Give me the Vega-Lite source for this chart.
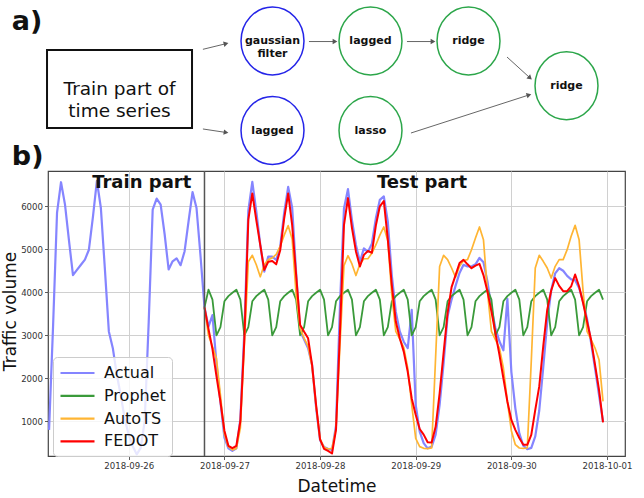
{
  "$schema": "https://vega.github.io/schema/vega-lite/v6.json",
  "width": 577,
  "height": 285,
  "autosize": {"type": "none"},
  "padding": {"left": 48, "top": 171, "right": 19, "bottom": 42},
  "background": "white",
  "config": {
    "font": "DejaVu Sans",
    "view": {"stroke": "#444", "strokeWidth": 1.2},
    "axis": {"labelFont": "DejaVu Sans", "labelFontSize": 8.6, "labelColor": "#333", "tickColor": "#333", "tickSize": 3.5, "tickWidth": 0.8, "gridColor": "#d0d0d0", "gridWidth": 1, "domain": false, "titleFont": "DejaVu Sans", "titleFontSize": 17, "titleFontWeight": "normal", "titleColor": "#111"},
    "text": {"font": "DejaVu Sans"}
  },
  "datasets": {
    "ts": [
      {"t": "2018-09-25T04:00", "Actual": 800},
      {"t": "2018-09-25T05:00", "Actual": 3200},
      {"t": "2018-09-25T06:00", "Actual": 5850},
      {"t": "2018-09-25T07:00", "Actual": 6560},
      {"t": "2018-09-25T08:00", "Actual": 6040},
      {"t": "2018-09-25T09:00", "Actual": 5200},
      {"t": "2018-09-25T10:00", "Actual": 4400},
      {"t": "2018-09-25T11:00", "Actual": 4520},
      {"t": "2018-09-25T12:00", "Actual": 4640},
      {"t": "2018-09-25T13:00", "Actual": 4760},
      {"t": "2018-09-25T14:00", "Actual": 4990},
      {"t": "2018-09-25T15:00", "Actual": 5750},
      {"t": "2018-09-25T16:00", "Actual": 6590},
      {"t": "2018-09-25T17:00", "Actual": 5960},
      {"t": "2018-09-25T18:00", "Actual": 4550},
      {"t": "2018-09-25T19:00", "Actual": 3090},
      {"t": "2018-09-25T20:00", "Actual": 2700},
      {"t": "2018-09-25T21:00", "Actual": 2080},
      {"t": "2018-09-25T22:00", "Actual": 1600},
      {"t": "2018-09-25T23:00", "Actual": 1050},
      {"t": "2018-09-26T00:00", "Actual": 680},
      {"t": "2018-09-26T01:00", "Actual": 420},
      {"t": "2018-09-26T02:00", "Actual": 230},
      {"t": "2018-09-26T03:00", "Actual": 380},
      {"t": "2018-09-26T04:00", "Actual": 1000},
      {"t": "2018-09-26T05:00", "Actual": 3300},
      {"t": "2018-09-26T06:00", "Actual": 5920},
      {"t": "2018-09-26T07:00", "Actual": 6180},
      {"t": "2018-09-26T08:00", "Actual": 6040},
      {"t": "2018-09-26T09:00", "Actual": 5350},
      {"t": "2018-09-26T10:00", "Actual": 4530},
      {"t": "2018-09-26T11:00", "Actual": 4720},
      {"t": "2018-09-26T12:00", "Actual": 4790},
      {"t": "2018-09-26T13:00", "Actual": 4630},
      {"t": "2018-09-26T14:00", "Actual": 4950},
      {"t": "2018-09-26T15:00", "Actual": 5650},
      {"t": "2018-09-26T16:00", "Actual": 6330},
      {"t": "2018-09-26T17:00", "Actual": 5960},
      {"t": "2018-09-26T18:00", "Actual": 4850},
      {"t": "2018-09-26T19:00", "Actual": 3650, "Prophet": 3650, "AutoTS": 3650, "FEDOT": 3650},
      {"t": "2018-09-26T20:00", "Actual": 3200, "Prophet": 4060, "AutoTS": 3000, "FEDOT": 3150},
      {"t": "2018-09-26T21:00", "Actual": 3470, "Prophet": 3830, "AutoTS": 2740, "FEDOT": 2680},
      {"t": "2018-09-26T22:00", "Actual": 2350, "Prophet": 3000, "AutoTS": 2460, "FEDOT": 2050},
      {"t": "2018-09-26T23:00", "Actual": 1450, "Prophet": 3190, "AutoTS": 1610, "FEDOT": 1460},
      {"t": "2018-09-27T00:00", "Actual": 620, "Prophet": 3790, "AutoTS": 690, "FEDOT": 780},
      {"t": "2018-09-27T01:00", "Actual": 370, "Prophet": 3910, "AutoTS": 410, "FEDOT": 430},
      {"t": "2018-09-27T02:00", "Actual": 310, "Prophet": 3990, "AutoTS": 335, "FEDOT": 375},
      {"t": "2018-09-27T03:00", "Actual": 370, "Prophet": 4060, "AutoTS": 370, "FEDOT": 430},
      {"t": "2018-09-27T04:00", "Actual": 1050, "Prophet": 3830, "AutoTS": 840, "FEDOT": 1000},
      {"t": "2018-09-27T05:00", "Actual": 3100, "Prophet": 3000, "AutoTS": 2780, "FEDOT": 2900},
      {"t": "2018-09-27T06:00", "Actual": 5900, "Prophet": 3190, "AutoTS": 4710, "FEDOT": 5690},
      {"t": "2018-09-27T07:00", "Actual": 6570, "Prophet": 3790, "AutoTS": 4860, "FEDOT": 6300},
      {"t": "2018-09-27T08:00", "Actual": 5880, "Prophet": 3910, "AutoTS": 4640, "FEDOT": 5680},
      {"t": "2018-09-27T09:00", "Actual": 5100, "Prophet": 3990, "AutoTS": 4360, "FEDOT": 5100},
      {"t": "2018-09-27T10:00", "Actual": 4480, "Prophet": 4060, "AutoTS": 4640, "FEDOT": 4520},
      {"t": "2018-09-27T11:00", "Actual": 4830, "Prophet": 3830, "AutoTS": 4760, "FEDOT": 4710},
      {"t": "2018-09-27T12:00", "Actual": 4830, "Prophet": 3000, "AutoTS": 4800, "FEDOT": 4730},
      {"t": "2018-09-27T13:00", "Actual": 4750, "Prophet": 3190, "AutoTS": 4880, "FEDOT": 4650},
      {"t": "2018-09-27T14:00", "Actual": 5060, "Prophet": 3790, "AutoTS": 5070, "FEDOT": 4980},
      {"t": "2018-09-27T15:00", "Actual": 5850, "Prophet": 3910, "AutoTS": 5330, "FEDOT": 5720},
      {"t": "2018-09-27T16:00", "Actual": 6450, "Prophet": 3990, "AutoTS": 5550, "FEDOT": 6300},
      {"t": "2018-09-27T17:00", "Actual": 5970, "Prophet": 4060, "AutoTS": 5240, "FEDOT": 5560},
      {"t": "2018-09-27T18:00", "Actual": 4450, "Prophet": 3830, "AutoTS": 3940, "FEDOT": 4400},
      {"t": "2018-09-27T19:00", "Actual": 3100, "Prophet": 3000, "AutoTS": 3160, "FEDOT": 3240},
      {"t": "2018-09-27T20:00", "Actual": 2900, "Prophet": 3190, "AutoTS": 2930, "FEDOT": 3080},
      {"t": "2018-09-27T21:00", "Actual": 2700, "Prophet": 3790, "AutoTS": 2740, "FEDOT": 2930},
      {"t": "2018-09-27T22:00", "Actual": 2310, "Prophet": 3910, "AutoTS": 2270, "FEDOT": 2310},
      {"t": "2018-09-27T23:00", "Actual": 1320, "Prophet": 3990, "AutoTS": 1340, "FEDOT": 1380},
      {"t": "2018-09-28T00:00", "Actual": 560, "Prophet": 4060, "AutoTS": 590, "FEDOT": 580},
      {"t": "2018-09-28T01:00", "Actual": 400, "Prophet": 3830, "AutoTS": 395, "FEDOT": 360},
      {"t": "2018-09-28T02:00", "Actual": 360, "Prophet": 3000, "AutoTS": 355, "FEDOT": 310},
      {"t": "2018-09-28T03:00", "Actual": 330, "Prophet": 3190, "AutoTS": 370, "FEDOT": 250},
      {"t": "2018-09-28T04:00", "Actual": 900, "Prophet": 3790, "AutoTS": 836, "FEDOT": 800},
      {"t": "2018-09-28T05:00", "Actual": 3700, "Prophet": 3910, "AutoTS": 2780, "FEDOT": 3080},
      {"t": "2018-09-28T06:00", "Actual": 5950, "Prophet": 3990, "AutoTS": 4620, "FEDOT": 5560},
      {"t": "2018-09-28T07:00", "Actual": 6400, "Prophet": 4060, "AutoTS": 4850, "FEDOT": 6190},
      {"t": "2018-09-28T08:00", "Actual": 5680, "Prophet": 3830, "AutoTS": 4660, "FEDOT": 5500},
      {"t": "2018-09-28T09:00", "Actual": 5100, "Prophet": 3000, "AutoTS": 4390, "FEDOT": 4950},
      {"t": "2018-09-28T10:00", "Actual": 4710, "Prophet": 3190, "AutoTS": 4660, "FEDOT": 4600},
      {"t": "2018-09-28T11:00", "Actual": 5020, "Prophet": 3790, "AutoTS": 4780, "FEDOT": 4870},
      {"t": "2018-09-28T12:00", "Actual": 4940, "Prophet": 3910, "AutoTS": 4780, "FEDOT": 4960},
      {"t": "2018-09-28T13:00", "Actual": 5130, "Prophet": 3990, "AutoTS": 4910, "FEDOT": 4920},
      {"t": "2018-09-28T14:00", "Actual": 5720, "Prophet": 4060, "AutoTS": 5100, "FEDOT": 5550},
      {"t": "2018-09-28T15:00", "Actual": 6150, "Prophet": 3830, "AutoTS": 5330, "FEDOT": 6000},
      {"t": "2018-09-28T16:00", "Actual": 6230, "Prophet": 3000, "AutoTS": 5520, "FEDOT": 6120},
      {"t": "2018-09-28T17:00", "Actual": 5640, "Prophet": 3190, "AutoTS": 5200, "FEDOT": 5230},
      {"t": "2018-09-28T18:00", "Actual": 4400, "Prophet": 3790, "AutoTS": 3940, "FEDOT": 4170},
      {"t": "2018-09-28T19:00", "Actual": 3550, "Prophet": 3910, "AutoTS": 3090, "FEDOT": 3320},
      {"t": "2018-09-28T20:00", "Actual": 3090, "Prophet": 3990, "AutoTS": 2910, "FEDOT": 2930},
      {"t": "2018-09-28T21:00", "Actual": 2850, "Prophet": 4060, "AutoTS": 2720, "FEDOT": 2620},
      {"t": "2018-09-28T22:00", "Actual": 2700, "Prophet": 3830, "AutoTS": 2235, "FEDOT": 2150},
      {"t": "2018-09-28T23:00", "Actual": 3590, "Prophet": 3000, "AutoTS": 1380, "FEDOT": 1530},
      {"t": "2018-09-29T00:00", "Actual": 1380, "Prophet": 3190, "AutoTS": 604, "FEDOT": 1150},
      {"t": "2018-09-29T01:00", "Actual": 760, "Prophet": 3790, "AutoTS": 410, "FEDOT": 820},
      {"t": "2018-09-29T02:00", "Actual": 490, "Prophet": 3910, "AutoTS": 371, "FEDOT": 690},
      {"t": "2018-09-29T03:00", "Actual": 370, "Prophet": 3990, "AutoTS": 365, "FEDOT": 510},
      {"t": "2018-09-29T04:00", "Actual": 410, "Prophet": 4060, "AutoTS": 380, "FEDOT": 505},
      {"t": "2018-09-29T05:00", "Actual": 690, "Prophet": 3830, "AutoTS": 2500, "FEDOT": 870},
      {"t": "2018-09-29T06:00", "Actual": 1380, "Prophet": 3000, "AutoTS": 4600, "FEDOT": 1650},
      {"t": "2018-09-29T07:00", "Actual": 2350, "Prophet": 3190, "AutoTS": 4860, "FEDOT": 2590},
      {"t": "2018-09-29T08:00", "Actual": 3440, "Prophet": 3790, "AutoTS": 4760, "FEDOT": 3520},
      {"t": "2018-09-29T09:00", "Actual": 3830, "Prophet": 3910, "AutoTS": 4565, "FEDOT": 4120},
      {"t": "2018-09-29T10:00", "Actual": 4150, "Prophet": 3990, "AutoTS": 4350, "FEDOT": 4400},
      {"t": "2018-09-29T11:00", "Actual": 4450, "Prophet": 4060, "AutoTS": 4604, "FEDOT": 4680},
      {"t": "2018-09-29T12:00", "Actual": 4640, "Prophet": 3830, "AutoTS": 4740, "FEDOT": 4755},
      {"t": "2018-09-29T13:00", "Actual": 4600, "Prophet": 3000, "AutoTS": 4760, "FEDOT": 4650},
      {"t": "2018-09-29T14:00", "Actual": 4600, "Prophet": 3190, "AutoTS": 4990, "FEDOT": 4560},
      {"t": "2018-09-29T15:00", "Actual": 4650, "Prophet": 3790, "AutoTS": 5263, "FEDOT": 4620},
      {"t": "2018-09-29T16:00", "Actual": 4800, "Prophet": 3910, "AutoTS": 5520, "FEDOT": 4660},
      {"t": "2018-09-29T17:00", "Actual": 4700, "Prophet": 3990, "AutoTS": 5224, "FEDOT": 4400},
      {"t": "2018-09-29T18:00", "Actual": 4250, "Prophet": 4060, "AutoTS": 4022, "FEDOT": 4020},
      {"t": "2018-09-29T19:00", "Actual": 3630, "Prophet": 3830, "AutoTS": 3092, "FEDOT": 3555},
      {"t": "2018-09-29T20:00", "Actual": 3170, "Prophet": 3000, "AutoTS": 2898, "FEDOT": 3050},
      {"t": "2018-09-29T21:00", "Actual": 2860, "Prophet": 3190, "AutoTS": 2704, "FEDOT": 2550},
      {"t": "2018-09-29T22:00", "Actual": 2650, "Prophet": 3790, "AutoTS": 2239, "FEDOT": 2000},
      {"t": "2018-09-29T23:00", "Actual": 3850, "Prophet": 3910, "AutoTS": 1464, "FEDOT": 1460},
      {"t": "2018-09-30T00:00", "Actual": 2150, "Prophet": 3990, "AutoTS": 780, "FEDOT": 1030},
      {"t": "2018-09-30T01:00", "Actual": 1300, "Prophet": 4060, "AutoTS": 456, "FEDOT": 800},
      {"t": "2018-09-30T02:00", "Actual": 720, "Prophet": 3830, "AutoTS": 378, "FEDOT": 610},
      {"t": "2018-09-30T03:00", "Actual": 430, "Prophet": 3000, "AutoTS": 370, "FEDOT": 452},
      {"t": "2018-09-30T04:00", "Actual": 350, "Prophet": 3190, "AutoTS": 378, "FEDOT": 452},
      {"t": "2018-09-30T05:00", "Actual": 380, "Prophet": 3790, "AutoTS": 2400, "FEDOT": 685},
      {"t": "2018-09-30T06:00", "Actual": 650, "Prophet": 3910, "AutoTS": 4565, "FEDOT": 1265},
      {"t": "2018-09-30T07:00", "Actual": 1250, "Prophet": 3990, "AutoTS": 4860, "FEDOT": 1810},
      {"t": "2018-09-30T08:00", "Actual": 2250, "Prophet": 4060, "AutoTS": 4720, "FEDOT": 2740},
      {"t": "2018-09-30T09:00", "Actual": 3300, "Prophet": 3830, "AutoTS": 4565, "FEDOT": 3590},
      {"t": "2018-09-30T10:00", "Actual": 4050, "Prophet": 3000, "AutoTS": 4332, "FEDOT": 4040},
      {"t": "2018-09-30T11:00", "Actual": 4440, "Prophet": 3190, "AutoTS": 4604, "FEDOT": 4330},
      {"t": "2018-09-30T12:00", "Actual": 4560, "Prophet": 3790, "AutoTS": 4759, "FEDOT": 4150},
      {"t": "2018-09-30T13:00", "Actual": 4500, "Prophet": 3910, "AutoTS": 4759, "FEDOT": 4025},
      {"t": "2018-09-30T14:00", "Actual": 4380, "Prophet": 3990, "AutoTS": 4992, "FEDOT": 4025},
      {"t": "2018-09-30T15:00", "Actual": 4300, "Prophet": 4060, "AutoTS": 5302, "FEDOT": 4135},
      {"t": "2018-09-30T16:00", "Actual": 4280, "Prophet": 3830, "AutoTS": 5557, "FEDOT": 4415},
      {"t": "2018-09-30T17:00", "Actual": 4100, "Prophet": 3000, "AutoTS": 5224, "FEDOT": 4135},
      {"t": "2018-09-30T18:00", "Actual": 3780, "Prophet": 3190, "AutoTS": 4022, "FEDOT": 3750},
      {"t": "2018-09-30T19:00", "Actual": 3380, "Prophet": 3790, "AutoTS": 3092, "FEDOT": 3320},
      {"t": "2018-09-30T20:00", "Actual": 2830, "Prophet": 3910, "AutoTS": 2898, "FEDOT": 2895},
      {"t": "2018-09-30T21:00", "Actual": 2230, "Prophet": 3990, "AutoTS": 2704, "FEDOT": 2310},
      {"t": "2018-09-30T22:00", "Actual": 1610, "Prophet": 4060, "AutoTS": 2433, "FEDOT": 1730},
      {"t": "2018-09-30T23:00", "Actual": 990, "Prophet": 3830, "AutoTS": 1464, "FEDOT": 975}
    ],
    "split": [{"t": "2018-09-26T19:00"}],
    "parts": [
      {"part": "Train part", "t": "2018-09-26T03:15", "v": 6420},
      {"part": "Test part", "t": "2018-09-29T01:35", "v": 6420}
    ],
    "nodes": [
      {"name": "gaussian\nfilter", "col": 1, "row": 0, "kind": "primary"},
      {"name": "lagged", "col": 2, "row": 0, "kind": "secondary"},
      {"name": "ridge", "col": 3, "row": 0, "kind": "secondary"},
      {"name": "ridge", "col": 4, "row": 0.5, "kind": "secondary"},
      {"name": "lagged", "col": 1, "row": 1, "kind": "primary"},
      {"name": "lasso", "col": 2, "row": 1, "kind": "secondary"}
    ],
    "source": [{"name": "Train part of\ntime series", "col": -0.561, "row": 0.536}],
    "edges": [
      {"c1": 0.29, "r1": 0.093, "c2": 0.526, "r2": 0.03, "dir": 346},
      {"c1": 0.29, "r1": 0.983, "c2": 0.526, "r2": 1.022, "dir": 8},
      {"c1": 1.372, "r1": 0.006, "c2": 1.638, "r2": 0.006, "dir": 0},
      {"c1": 2.372, "r1": 0.006, "c2": 2.638, "r2": 0.006, "dir": 0},
      {"c1": 3.393, "r1": 0.179, "c2": 3.628, "r2": 0.413, "dir": 42.4},
      {"c1": 2.413, "r1": 1.028, "c2": 3.617, "r2": 0.603, "dir": 342.2}
    ],
    "panels": [
      {"label": "a)", "col": -1.66, "row": -0.12},
      {"label": "b)", "col": -1.66, "row": 1.38}
    ]
  },
  "layer": [
    {
      "layer": [
        {
          "data": {"name": "ts"},
          "transform": [
            {"fold": ["Actual", "Prophet", "AutoTS", "FEDOT"], "as": ["series", "value"]},
            {"filter": "isValid(datum.value)"}
          ],
          "encoding": {
            "x": {"field": "t", "type": "temporal",
                  "scale": {"domain": [{"year": 2018, "month": 9, "date": 25, "hours": 3, "minutes": 44}, {"year": 2018, "month": 10, "date": 1, "hours": 4, "minutes": 31}], "nice": false},
                  "axis": {"format": "%Y-%m-%d", "tickCount": {"interval": "day", "step": 1}, "labelAngle": 0, "labelPadding": 2, "labelFlush": false, "title": "Datetime", "titlePadding": 8, "grid": true}},
            "y": {"field": "value", "type": "quantitative",
                  "scale": {"domain": [192, 6821], "nice": false, "zero": false},
                  "axis": {"values": [1000, 2000, 3000, 4000, 5000, 6000], "format": "d", "labelPadding": 2, "title": "Traffic volume", "titleX": -33, "titleY": 140, "titleAngle": 270, "titleAlign": "center", "titleBaseline": "alphabetic", "grid": true}},
            "color": {"field": "series", "type": "nominal",
                      "scale": {"domain": ["Actual", "Prophet", "AutoTS", "FEDOT"], "range": ["#8585ff", "#3a9a3a", "#ffb533", "#ff0000"]},
                      "legend": {"title": null, "orient": "none", "legendX": 5, "legendY": 186, "fillColor": "rgba(255,255,255,0.8)", "strokeColor": "#cccccc", "cornerRadius": 4, "padding": 6, "labelFont": "DejaVu Sans", "labelFontSize": 16, "labelColor": "#111", "symbolType": "M-1,0H3", "symbolSize": 289, "symbolStrokeWidth": 2.2, "labelOffset": 25, "rowPadding": 4.8}}
          },
          "layer": [
            {"transform": [{"filter": "datum.series === 'Actual'"}], "mark": {"type": "line", "strokeWidth": 2.2, "strokeJoin": "round"}},
            {"transform": [{"filter": "datum.series === 'Prophet'"}], "mark": {"type": "line", "strokeWidth": 1.8, "strokeJoin": "round"}},
            {"transform": [{"filter": "datum.series === 'AutoTS'"}], "mark": {"type": "line", "strokeWidth": 1.7, "strokeJoin": "round"}},
            {"transform": [{"filter": "datum.series === 'FEDOT'"}], "mark": {"type": "line", "strokeWidth": 2, "strokeJoin": "round"}}
          ]
        },
        {
          "data": {"name": "split"},
          "mark": {"type": "rule", "color": "#555", "strokeWidth": 1.5},
          "encoding": {"x": {"field": "t", "type": "temporal"}}
        },
        {
          "data": {"name": "parts"},
          "mark": {"type": "text", "fontSize": 18, "fontWeight": "bold", "baseline": "alphabetic", "align": "center", "color": "#111"},
          "encoding": {
            "x": {"field": "t", "type": "temporal"},
            "y": {"field": "v", "type": "quantitative"},
            "text": {"field": "part"}
          }
        }
      ]
    },
    {
      "layer": [
        {
          "data": {"name": "edges"},
          "mark": {"type": "rule", "color": "#555", "strokeWidth": 0.9},
          "encoding": {
            "x": {"field": "c1", "type": "quantitative", "scale": {"domain": [1, 4], "range": [224.5, 518.5], "nice": false, "zero": false}, "axis": null},
            "y": {"field": "r1", "type": "quantitative", "scale": {"domain": [0, 1], "range": [-130, -40.5], "nice": false, "zero": false}, "axis": null},
            "x2": {"field": "c2"},
            "y2": {"field": "r2"}
          }
        },
        {
          "data": {"name": "edges"},
          "mark": {"type": "point", "shape": "triangle-right", "filled": true, "color": "#555", "size": 30, "opacity": 1},
          "encoding": {
            "x": {"field": "c2", "type": "quantitative", "scale": {"domain": [1, 4], "range": [224.5, 518.5], "nice": false, "zero": false}, "axis": null},
            "y": {"field": "r2", "type": "quantitative", "scale": {"domain": [0, 1], "range": [-130, -40.5], "nice": false, "zero": false}, "axis": null},
            "angle": {"field": "dir", "type": "quantitative", "scale": null}
          }
        },
        {
          "data": {"name": "nodes"},
          "mark": {"type": "point", "shape": "M0,-1A0.926,1,0,1,1,0,1A0.926,1,0,1,1,0,-1Z", "size": 4624, "filled": false, "strokeWidth": 1.5, "opacity": 1},
          "encoding": {
            "x": {"field": "col", "type": "quantitative", "scale": {"domain": [1, 4], "range": [224.5, 518.5], "nice": false, "zero": false}, "axis": null},
            "y": {"field": "row", "type": "quantitative", "scale": {"domain": [0, 1], "range": [-130, -40.5], "nice": false, "zero": false}, "axis": null},
            "stroke": {"field": "kind", "type": "nominal", "scale": {"domain": ["primary", "secondary"], "range": ["#2424e8", "#2ca64a"]}, "legend": null}
          }
        },
        {
          "data": {"name": "nodes"},
          "mark": {"type": "text", "fontWeight": "bold", "fontSize": 11, "lineBreak": "\n", "lineHeight": 13, "color": "#111", "baseline": "middle"},
          "encoding": {
            "x": {"field": "col", "type": "quantitative", "scale": {"domain": [1, 4], "range": [224.5, 518.5], "nice": false, "zero": false}, "axis": null},
            "y": {"field": "row", "type": "quantitative", "scale": {"domain": [0, 1], "range": [-130, -40.5], "nice": false, "zero": false}, "axis": null},
            "text": {"field": "name"}
          }
        },
        {
          "data": {"name": "source"},
          "mark": {"type": "point", "shape": "M-1,-0.538H1V0.538H-1Z", "size": 21025, "filled": false, "stroke": "#111", "strokeWidth": 2, "opacity": 1},
          "encoding": {
            "x": {"field": "col", "type": "quantitative", "scale": {"domain": [1, 4], "range": [224.5, 518.5], "nice": false, "zero": false}, "axis": null},
            "y": {"field": "row", "type": "quantitative", "scale": {"domain": [0, 1], "range": [-130, -40.5], "nice": false, "zero": false}, "axis": null}
          }
        },
        {
          "data": {"name": "source"},
          "mark": {"type": "text", "fontSize": 18.5, "lineBreak": "\n", "lineHeight": 22, "color": "#111", "baseline": "middle"},
          "encoding": {
            "x": {"field": "col", "type": "quantitative", "scale": {"domain": [1, 4], "range": [224.5, 518.5], "nice": false, "zero": false}, "axis": null},
            "y": {"field": "row", "type": "quantitative", "scale": {"domain": [0, 1], "range": [-130, -40.5], "nice": false, "zero": false}, "axis": null},
            "text": {"field": "name"}
          }
        },
        {
          "data": {"name": "panels"},
          "mark": {"type": "text", "fontSize": 27, "fontWeight": "bold", "align": "left", "baseline": "alphabetic", "color": "#111"},
          "encoding": {
            "x": {"field": "col", "type": "quantitative", "scale": {"domain": [1, 4], "range": [224.5, 518.5], "nice": false, "zero": false}, "axis": null},
            "y": {"field": "row", "type": "quantitative", "scale": {"domain": [0, 1], "range": [-130, -40.5], "nice": false, "zero": false}, "axis": null},
            "text": {"field": "label"}
          }
        }
      ]
    }
  ],
  "resolve": {"scale": {"x": "independent", "y": "independent"}}
}
